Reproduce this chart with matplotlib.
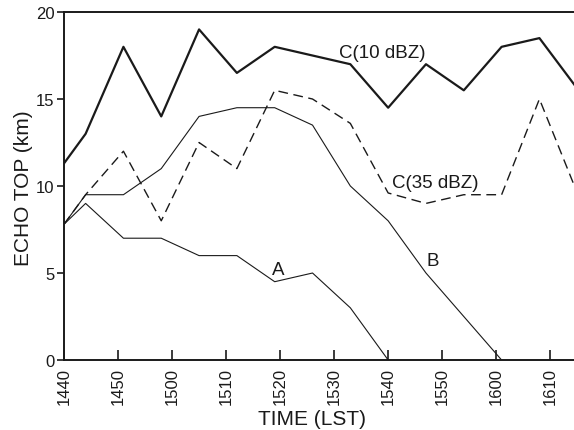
import matplotlib
matplotlib.use('Agg')
import matplotlib.pyplot as plt

plt.rcParams['font.family'] = ['Liberation Sans', 'DejaVu Sans']

# observation times (LST, HHMM)
times = [1440, 1444, 1451, 1458, 1505, 1512, 1519, 1526, 1533, 1540, 1547, 1554, 1601, 1608, 1615]
c10 = [11.3, 13.0, 18.0, 14.0, 19.0, 16.5, 18.0, 17.5, 17.0, 14.5, 17.0, 15.5, 18.0, 18.5, 15.6]
c35 = [7.8, 9.5, 12.0, 8.0, 12.5, 11.0, 15.5, 15.0, 13.6, 9.6, 9.0, 9.5, 9.5, 15.0, 9.6]
cell_a = [7.8, 9.0, 7.0, 7.0, 6.0, 6.0, 4.5, 5.0, 3.0, 0.0]
cell_b = [7.8, 9.5, 9.5, 11.0, 14.0, 14.5, 14.5, 13.5, 10.0, 8.0, 5.0, 0.0]
times_b = [1440, 1444, 1451, 1458, 1505, 1512, 1519, 1526, 1533, 1540, 1547, 1601]

tick_times = [1440, 1450, 1500, 1510, 1520, 1530, 1540, 1550, 1600, 1610]


def to_min(t):
    # minutes after 1440
    return (t // 100) * 60 + t % 100 - (14 * 60 + 40)


x = [to_min(t) for t in times]
xb = [to_min(t) for t in times_b]

fig = plt.figure(figsize=(5.74, 4.31), dpi=100)
ax = fig.add_axes([0.1115, 0.1624, 0.8885, 0.8074])

ink = '#1a1a1a'
ax.plot(x, c10, color=ink, lw=1.6)
ax.plot(x, c35, color=ink, lw=1.0, dashes=(7, 4))
ax.plot(x[:len(cell_a)], cell_a, color=ink, lw=0.8)
ax.plot(xb, cell_b, color=ink, lw=0.8)

ax.text(58.9, 17.7, 'C(10 dBZ)', fontsize=13.5, ha='center', va='center', color=ink)
ax.text(68.7, 10.2, 'C(35 dBZ)', fontsize=13.5, ha='center', va='center', color=ink)
ax.text(39.6, 5.2, 'A', fontsize=13.5, ha='center', va='center', color=ink)
ax.text(68.3, 5.7, 'B', fontsize=13.5, ha='center', va='center', color=ink)

ax.set_xlim(0, 94.4)
ax.set_ylim(0, 20)
ax.set_xticks([to_min(t) for t in tick_times])
ax.set_xticklabels([str(t) for t in tick_times], rotation=90)
ax.set_yticks([0, 5, 10, 15, 20])

ax.tick_params(axis='x', direction='in', length=7, width=1.2, labelsize=12, pad=5, colors=ink)
ax.tick_params(axis='y', direction='out', length=5, width=1.2, labelsize=12, pad=2, colors=ink)

ax.spines['right'].set_visible(False)
for s in ['left', 'top', 'bottom']:
    ax.spines[s].set_linewidth(1.4)
    ax.spines[s].set_color(ink)

ax.set_xlabel('TIME (LST)', fontsize=15, color=ink)
ax.set_ylabel('ECHO TOP (km)', fontsize=15, color=ink)
ax.xaxis.set_label_coords(0.486, -0.14)
ax.yaxis.set_label_coords(-0.06, 0.496)

fig.savefig('out.png', dpi=100)
